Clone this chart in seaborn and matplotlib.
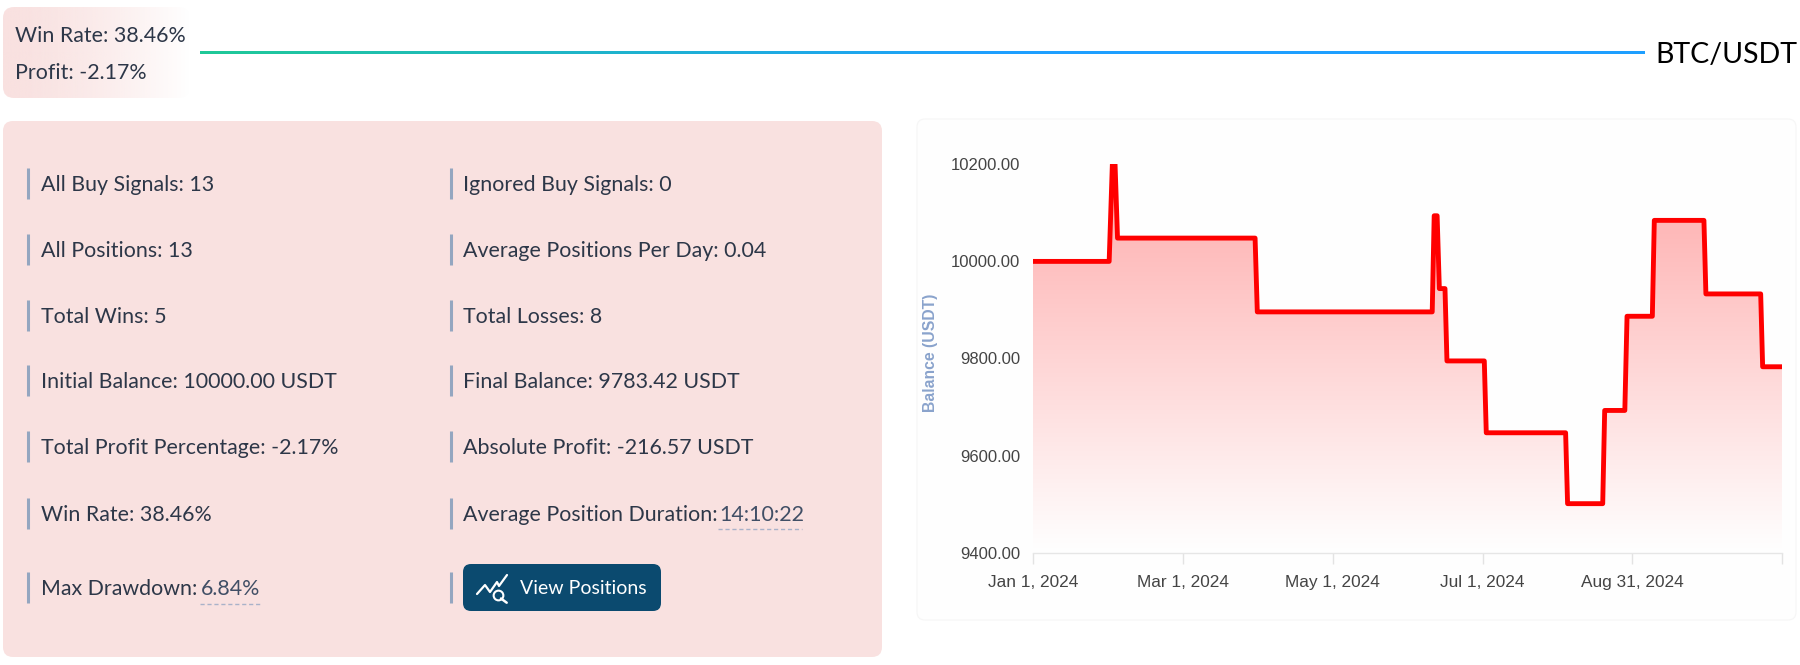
import numpy as np
import pandas as pd
import matplotlib
matplotlib.use("Agg")
import matplotlib.pyplot as plt
from matplotlib.patches import FancyBboxPatch
from matplotlib.colors import to_rgb
import seaborn as sns

# balance curve, x is the position along the category axis (days from start)
days = [0, 31, 32.3, 33.4, 34.4, 90.4, 91.3, 162.5, 163.3, 164.5, 165.4, 167.7, 168.5,
        183.7, 184.5, 216.8, 217.6, 231.9, 232.7, 240.9, 241.8, 252.1, 252.9,
        273.1, 273.9, 296.2, 297, 305]
balance = [10000, 10000, 10200, 10200, 10048, 10048, 9896, 9896, 10094, 10094, 9944, 9944, 9795,
           9795, 9647, 9647, 9501, 9501, 9693, 9693, 9887, 9887, 10084.5,
           10084.5, 9933, 9933, 9783, 9783]

x_ticks = [0, 61, 122, 183, 244, 305]
x_labels = ["Jan 1, 2024", "Mar 1, 2024", "May 1, 2024", "Jul 1, 2024", "Aug 31, 2024", ""]
y_ticks = [9400, 9600, 9800, 10000, 10200]

left_col = ["All Buy Signals: 13", "All Positions: 13", "Total Wins: 5",
            "Initial Balance: 10000.00 USDT", "Total Profit Percentage: -2.17%",
            "Win Rate: 38.46%", "Max Drawdown: "]
right_col = ["Ignored Buy Signals: 0", "Average Positions Per Day: 0.04", "Total Losses: 8",
             "Final Balance: 9783.42 USDT", "Absolute Profit: -216.57 USDT",
             "Average Position Duration: ", ""]
row_y = [183, 249, 315, 380, 446, 513, 587]

W, H = 1800, 665
TEXT = "#2d3748"
VALUE = "#414f66"
BAR = "#94a6c0"
PINK = "#f9e1e0"
FS = 15.4
DY = 2  # Lato sits a bit high with va=center
FONT = ["Lato", "DejaVu Sans"]
CHART_FONT = ["Liberation Sans", "DejaVu Sans"]

sns.set_theme(style="white")
plt.rcParams["font.family"] = FONT

fig = plt.figure(figsize=(W / 100, H / 100), dpi=100, facecolor="white")

# background layer in pixel coordinates
bg = fig.add_axes([0, 0, 1, 1])
bg.set_axis_off()


def box(x0, y0, x1, y1, color, rad=8, ec="none", z=1):
    p = FancyBboxPatch((x0, y0), x1 - x0, y1 - y0, boxstyle=f"round,pad=0,rounding_size={rad}",
                       fc=color, ec=ec, lw=0.8, zorder=z)
    bg.add_patch(p)
    return p


# top badge, pink fading to white
badge = box(3, 7, 190, 98, "none", rad=11)
grad = np.ones((1, 256, 4))
grad[0, :, :3] = to_rgb(PINK)
grad[0, :, 3] = np.clip(1.0 - np.linspace(0, 1, 256) ** 1.5, 0, 1)
im = bg.imshow(grad, extent=[3, 190, 98, 7], aspect="auto", zorder=1)
im.set_clip_path(badge)
bg.text(15, 34 + DY, "Win Rate: 38.46%", fontsize=FS, color=TEXT, va="center", zorder=3)
bg.text(15, 71 + DY, "Profit: -2.17%", fontsize=FS, color=TEXT, va="center", zorder=3)

# header rule
c0, c1 = np.array(to_rgb("#20c997")), np.array(to_rgb("#1e9fff"))
t = np.clip(np.linspace(0, 1, 512) / 0.55, 0, 1)[None, :, None]
bg.imshow(c0 + (c1 - c0) * t, extent=[200, 1645, 54, 51], aspect="auto", zorder=2)
bg.text(1655, 52 + 3, "BTC/USDT", fontsize=20.5, color="black", va="center", zorder=3)

# stats panel
box(3, 121, 882, 657, PINK, rad=10)
for x_bar, x_txt, labels in [(26, 41, left_col), (449, 463, right_col)]:
    for y, label in zip(row_y, labels):
        bg.plot([x_bar + 1.5] * 2, [y - 15.5, y + 15.5], color=BAR, lw=2.2, solid_capstyle="butt", zorder=3)
        if label:
            bg.text(x_txt, y + DY, label, fontsize=FS, color=TEXT, va="center", zorder=3)

bg.text(201, row_y[6] + DY, "6.84%", fontsize=FS, color=VALUE, va="center", zorder=3)
bg.plot([200, 262], [604, 604], color="#a9b2c9", lw=1, ls=(0, (3, 2)), zorder=3)
bg.text(719, row_y[5] + DY, "14:10:22", fontsize=FS, color=VALUE, va="center", zorder=3)
bg.plot([718, 802], [529, 529], color="#a9b2c9", lw=1, ls=(0, (3, 2)), zorder=3)

# button
box(463, 564, 661, 611, "#0b4a6f", rad=8, z=3)
bg.text(520, 587 + DY, "View Positions", fontsize=14, color="white", va="center", zorder=4)
bg.plot([477, 485, 490, 497, 499, 507], [594, 585, 592, 582, 586, 575], color="white", lw=1.6, zorder=4)
bg.plot([497.7], [595], marker="o", ms=7, mfc="none", mec="white", mew=1.5, zorder=4)
bg.plot([501, 506.7], [598.5, 602.7], color="white", lw=1.8, zorder=4)

# chart card
box(917, 119, 1796, 620, "#fefefe", rad=8, ec="#f6f6f6")

bg.set_xlim(0, W)
bg.set_ylim(H, 0)

# chart
ax = fig.add_axes([1033 / W, 1 - 552.7 / H, (1782.3 - 1033) / W, (552.7 - 164.3) / H])
ax.patch.set_alpha(0)
df = pd.DataFrame({"day": days, "balance": balance})

fill = ax.fill_between(df["day"], df["balance"], 9400, color="none", lw=0)
g = np.ones((256, 1, 4))
g[:, :, 1:3] = 0.0
g[:, :, 3] = np.linspace(0.33, 0.0, 256)[:, None]
gim = ax.imshow(g, extent=[0, 305, 9400, 10200], origin="upper", aspect="auto", zorder=1)
gim.set_clip_path(fill.get_paths()[0], ax.transData)

sns.lineplot(data=df, x="day", y="balance", estimator=None, sort=False, color="#ff0000", lw=3.5, ax=ax, zorder=3)
ax.lines[-1].set_solid_joinstyle("round")
ax.lines[-1].set_solid_capstyle("butt")

ax.set_xlim(0, 305)
ax.set_ylim(9400, 10200)
ax.set_xticks(x_ticks)
ax.set_xticklabels(x_labels, family=CHART_FONT, fontsize=12.4, color="#444444")
ax.set_yticks(y_ticks)
ax.set_yticklabels([f"{v:.2f}" for v in y_ticks], family=CHART_FONT, fontsize=12, color="#444444")
ax.tick_params(axis="x", length=8, width=1, color="#e3e3e3", pad=8, bottom=True)
ax.tick_params(axis="y", length=0, pad=9)
ax.set_xlabel("")
ax.set_ylabel("")
sns.despine(ax=ax, left=True, top=True, right=True)
ax.spines["bottom"].set_color("#e6e6e6")
ax.spines["bottom"].set_linewidth(1)

bg.text(930, 352.5, "Balance (USDT)", rotation=90, family=CHART_FONT, weight="bold", fontsize=11.3,
        color="#8aa3cc", ha="center", va="center", zorder=3)

fig.savefig("out.png", dpi=100)
